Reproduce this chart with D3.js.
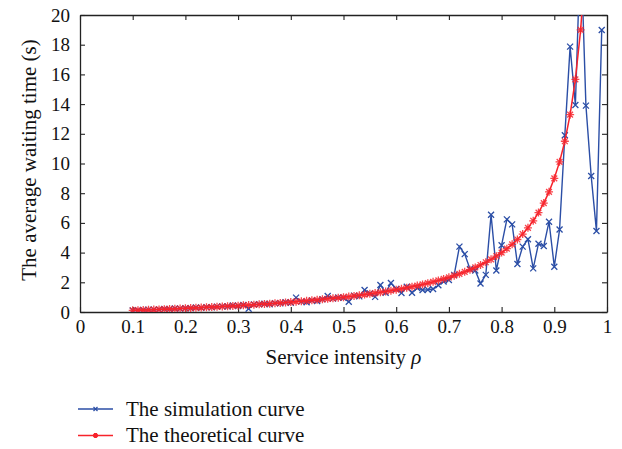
<!DOCTYPE html>
<html lang="en">
<head>
    <meta charset="UTF-8">
    <title>Average waiting time vs service intensity</title>
    <script src="https://d3js.org/d3.v7.min.js"></script>
    <style>
        body { margin: 0; background: #fff; }
        text { font-family: "Liberation Serif", "Times New Roman", serif; fill: #111; }
    </style>
</head>
<body>
    <div id="chart"></div>
    <script>
        // service intensity for the simulation runs
        const simRho = [0.10, 0.11, 0.12, 0.13, 0.14, 0.15, 0.16, 0.17, 0.18, 0.19,
            0.20, 0.21, 0.22, 0.23, 0.24, 0.25, 0.26, 0.27, 0.28, 0.29,
            0.30, 0.31, 0.32, 0.33, 0.34, 0.35, 0.36, 0.37, 0.38, 0.39,
            0.40, 0.41, 0.42, 0.43, 0.44, 0.45, 0.46, 0.47, 0.48, 0.49,
            0.50, 0.51, 0.52, 0.53, 0.54, 0.55, 0.56, 0.57, 0.58, 0.59,
            0.60, 0.61, 0.62, 0.63, 0.64, 0.65, 0.66, 0.67, 0.68, 0.69,
            0.70, 0.71, 0.72, 0.73, 0.74, 0.75, 0.76, 0.77, 0.78, 0.79,
            0.80, 0.81, 0.82, 0.83, 0.84, 0.85, 0.86, 0.87, 0.88, 0.89,
            0.90, 0.91, 0.92, 0.93, 0.94, 0.95, 0.96, 0.97, 0.98, 0.99];
        const simWait = [0.10, 0.12, 0.13, 0.16, 0.15, 0.17, 0.20, 0.19, 0.23, 0.22,
            0.26, 0.25, 0.30, 0.28, 0.33, 0.31, 0.36, 0.38, 0.37, 0.44,
            0.40, 0.47, 0.22, 0.50, 0.52, 0.56, 0.52, 0.60, 0.58, 0.66,
            0.62, 0.97, 0.70, 0.66, 0.78, 0.74, 0.86, 1.08, 0.90, 0.98,
            0.95, 0.69, 1.10, 1.05, 1.48, 1.25, 1.02, 1.82, 1.30, 1.95,
            1.55, 1.28, 1.70, 1.30, 1.62, 1.48, 1.50, 1.55, 1.80, 2.05,
            2.15, 2.50, 4.40, 3.90, 2.90, 2.80, 1.92, 2.50, 6.55, 2.80,
            4.50, 6.24, 5.90, 3.23, 4.40, 4.90, 2.94, 4.60, 4.44, 6.08,
            3.05, 5.55, 11.9, 17.87, 13.94, 25.0, 13.9, 9.16, 5.45, 18.99];

        // theoretical curve points
        const theoRho = [0.10, 0.11, 0.12, 0.13, 0.14, 0.15, 0.16, 0.17, 0.18, 0.19,
            0.20, 0.21, 0.22, 0.23, 0.24, 0.25, 0.26, 0.27, 0.28, 0.29,
            0.30, 0.31, 0.32, 0.33, 0.34, 0.35, 0.36, 0.37, 0.38, 0.39,
            0.40, 0.41, 0.42, 0.43, 0.44, 0.45, 0.46, 0.47, 0.48, 0.49,
            0.50, 0.51, 0.52, 0.53, 0.54, 0.55, 0.56, 0.57, 0.58, 0.59,
            0.60, 0.61, 0.62, 0.63, 0.64, 0.65, 0.66, 0.67, 0.68, 0.69,
            0.70, 0.71, 0.72, 0.73, 0.74, 0.75, 0.76, 0.77, 0.78, 0.79,
            0.80, 0.81, 0.82, 0.83, 0.84, 0.85, 0.86, 0.87, 0.88, 0.89,
            0.90, 0.91, 0.92, 0.93, 0.94, 0.95, 0.96];
        const theoWait = [0.111, 0.124, 0.136, 0.149, 0.163, 0.176, 0.190, 0.205, 0.220, 0.235,
            0.250, 0.266, 0.282, 0.299, 0.316, 0.333, 0.351, 0.370, 0.389, 0.408,
            0.429, 0.449, 0.471, 0.493, 0.515, 0.538, 0.563, 0.587, 0.613, 0.639,
            0.667, 0.695, 0.724, 0.754, 0.786, 0.818, 0.852, 0.887, 0.923, 0.961,
            1.000, 1.041, 1.083, 1.128, 1.174, 1.222, 1.273, 1.326, 1.381, 1.439,
            1.500, 1.564, 1.632, 1.703, 1.778, 1.857, 1.941, 2.030, 2.125, 2.226,
            2.333, 2.448, 2.571, 2.704, 2.846, 3.000, 3.167, 3.348, 3.545, 3.762,
            4.000, 4.263, 4.556, 4.882, 5.250, 5.667, 6.143, 6.692, 7.333, 8.091,
            9.000, 10.11, 11.50, 13.29, 15.67, 19.00, 24.00];

        const xTicks = [0, 0.1, 0.2, 0.3, 0.4, 0.5, 0.6, 0.7, 0.8, 0.9, 1];
        const yTicks = [0, 2, 4, 6, 8, 10, 12, 14, 16, 18, 20];
        const seriesNames = ["The simulation curve", "The theoretical curve"];

        const W = 622, H = 449;
        const margin = { top: 15, right: 15, bottom: 137, left: 80 },
              width = W - margin.left - margin.right,
              height = H - margin.top - margin.bottom;

        const blue = "#2b4ea6", red = "#f7232b";
        const serif = "'Liberation Serif', 'Times New Roman', serif";

        const root = d3.select("#chart").append("svg")
            .attr("width", W).attr("height", H);

        root.append("defs").append("clipPath").attr("id", "plotClip")
            .append("rect").attr("width", width).attr("height", height);

        const svg = root.append("g")
            .attr("transform", `translate(${margin.left},${margin.top})`);

        const x = d3.scaleLinear().domain([0, 1]).range([0, width]);
        const y = d3.scaleLinear().domain([0, 20]).range([height, 0]);

        const fmtX = d => d === 0 || d === 1 ? String(d) : d.toFixed(1);

        // axes with inward ticks on all four sides
        const styleAxis = g => {
            g.attr("font-family", serif);
            g.select(".domain").attr("stroke", "#222").attr("stroke-width", 1.3);
            g.selectAll(".tick line").attr("stroke", "#222").attr("stroke-width", 1.1);
            g.selectAll(".tick text").style("font-size", "19px")
                .style("font-family", serif).attr("fill", "#111");
        };
        svg.append("g").attr("transform", `translate(0,${height})`)
            .call(d3.axisBottom(x).tickValues(xTicks).tickFormat(fmtX).tickSizeInner(-5).tickSizeOuter(0).tickPadding(8))
            .call(styleAxis);
        svg.append("g")
            .call(d3.axisTop(x).tickValues(xTicks).tickFormat("").tickSizeInner(-5).tickSizeOuter(0))
            .call(styleAxis);
        svg.append("g")
            .call(d3.axisLeft(y).tickValues(yTicks).tickSizeInner(-5).tickSizeOuter(0).tickPadding(10))
            .call(styleAxis);
        svg.append("g").attr("transform", `translate(${width},0)`)
            .call(d3.axisRight(y).tickValues(yTicks).tickFormat("").tickSizeInner(-5).tickSizeOuter(0))
            .call(styleAxis);

        const plot = svg.append("g").attr("clip-path", "url(#plotClip)");

        const simData = simRho.map((r, i) => ({ r, v: simWait[i] }));
        const theoData = theoRho.map((r, i) => ({ r, v: theoWait[i] }));
        const line = d3.line().x(d => x(d.r)).y(d => y(d.v));

        // symbols
        const crossPath = s => `M${-s},${-s}L${s},${s}M${-s},${s}L${s},${-s}`;
        const starPath = s => {
            const d = s * 0.72;
            return `M${-s},0L${s},0M0,${-s}L0,${s}M${-d},${-d}L${d},${d}M${-d},${d}L${d},${-d}`;
        };

        // simulation curve
        plot.append("path").datum(simData)
            .attr("d", line).attr("fill", "none")
            .attr("stroke", blue).attr("stroke-width", 1.4);
        plot.selectAll(".simMark").data(simData).enter().append("path")
            .attr("class", "simMark")
            .attr("transform", d => `translate(${x(d.r)},${y(d.v)})`)
            .attr("d", crossPath(3))
            .attr("stroke", blue).attr("stroke-width", 1.3).attr("fill", "none");

        // theoretical curve
        plot.append("path").datum(theoData)
            .attr("d", line).attr("fill", "none")
            .attr("stroke", red).attr("stroke-width", 1.5);
        plot.selectAll(".theoMark").data(theoData).enter().append("path")
            .attr("class", "theoMark")
            .attr("transform", d => `translate(${x(d.r)},${y(d.v)})`)
            .attr("d", starPath(4))
            .attr("stroke", red).attr("stroke-opacity", 0.85).attr("stroke-width", 1.3).attr("fill", "none");

        // axis titles
        svg.append("text")
            .attr("x", width / 2).attr("y", 364 - margin.top)
            .attr("text-anchor", "middle").style("font-size", "21px")
            .html("Service intensity <tspan font-style='italic'>ρ</tspan>");
        root.append("text")
            .attr("transform", "translate(36,160) rotate(-90)")
            .attr("text-anchor", "middle").style("font-size", "21px")
            .text("The average waiting time (s)");

        // legend
        const legend = root.append("g").attr("transform", "translate(78,409)");
        const legendItems = [
            { name: seriesNames[0], color: blue, sym: crossPath(2), sw: 1.2 },
            { name: seriesNames[1], color: red, sym: starPath(2.5), sw: 2 }
        ];
        legendItems.forEach((it, i) => {
            const g = legend.append("g").attr("transform", `translate(0,${i * 26.5})`);
            g.append("line").attr("x1", 0).attr("x2", 35)
                .attr("stroke", it.color).attr("stroke-width", 1.3);
            g.append("path").attr("transform", "translate(17.5,0)").attr("d", it.sym)
                .attr("stroke", it.color).attr("stroke-width", it.sw).attr("fill", "none");
            g.append("text").attr("x", 48).attr("y", 6.5)
                .style("font-size", "21px").text(it.name);
        });
    </script>
</body>
</html>
